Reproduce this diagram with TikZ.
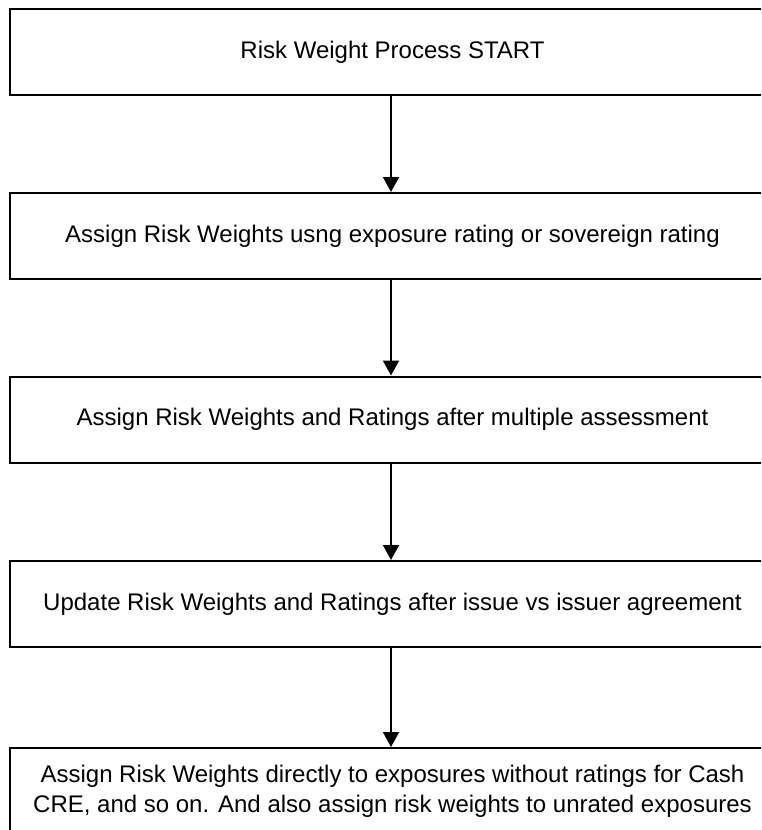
\documentclass[tikz,border=0pt]{standalone}
\usepackage{fontspec}
\setmainfont{Liberation Sans}
\usetikzlibrary{arrows.meta}
\begin{document}
\begin{tikzpicture}[x=1pt,y=-1pt,
  procbox/.style={draw=black, line width=2pt, minimum width=765pt, minimum height=86pt,
    inner sep=0pt, align=center, font=\fontsize{24}{30}\selectfont, anchor=center},
  flow/.style={line width=2pt, -{Triangle[width=16pt,length=15pt]}}]
\useasboundingbox (0,0) rectangle (761,830);
\clip (0,0) rectangle (761,830);
\node[procbox] (b1) at (392.5,52) {Risk Weight Process START};
\node[procbox] (b2) at (392.5,236) {Assign Risk Weights usng exposure rating or sovereign rating};
\node[procbox] (b3) at (392.5,419.5) {Assign Risk Weights and Ratings after multiple assessment};
\node[procbox] (b4) at (392.5,604) {Update Risk Weights and Ratings after issue vs issuer agreement};
\node[procbox] (b5) at (392.5,791) {Assign Risk Weights directly to exposures without ratings for Cash\\CRE, and so on. And also assign risk weights to unrated exposures};
\draw[flow] ([xshift=-1.5pt]b1.south) -- ([xshift=-1.5pt]b2.north);
\draw[flow] ([xshift=-1.5pt]b2.south) -- ([xshift=-1.5pt]b3.north);
\draw[flow] ([xshift=-1.5pt]b3.south) -- ([xshift=-1.5pt]b4.north);
\draw[flow] ([xshift=-1.5pt]b4.south) -- ([xshift=-1.5pt]b5.north);
\end{tikzpicture}
\end{document}
